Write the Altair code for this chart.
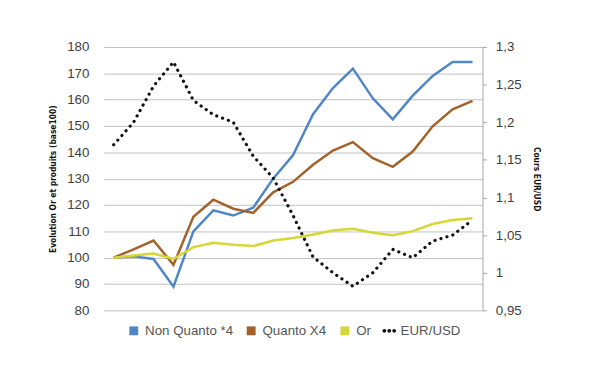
import altair as alt
import pandas as pd

series_names = ["Non Quanto *4", "Quanto X4", "Or", "EUR/USD"]
series_colors = ["#4f86c6", "#a3622a", "#d6d635", "#111111"]

non_quanto = [100, 100.5, 99.5, 89, 110, 118, 116, 119, 130, 139, 154.5, 164.4, 171.8, 160.5, 152.5, 161.5, 169, 174.3, 174.3]
quanto = [100, 103.2, 106.5, 97.3, 115.5, 122, 118.6, 117, 124.8, 128.8, 135.3, 140.7, 143.9, 137.8, 134.5, 140.3, 149.9, 156.3, 159.5]
gold = [100, 100.8, 101.6, 99.5, 104, 105.7, 104.9, 104.4, 106.5, 107.5, 108.8, 110.3, 111, 109.5, 108.5, 110.1, 112.8, 114.3, 115]
eurusd = [1.17, 1.2, 1.248, 1.28, 1.229, 1.21, 1.2, 1.155, 1.126, 1.076, 1.021, 1.0, 0.982, 1.0, 1.031, 1.02, 1.042, 1.05, 1.07]

left_ticks = [80, 90, 100, 110, 120, 130, 140, 150, 160, 170, 180]
right_ticks = [0.95, 1.0, 1.05, 1.1, 1.15, 1.2, 1.25, 1.3]

rows = []
for name, vals in zip(series_names[:3], [non_quanto, quanto, gold]):
    for i, v in enumerate(vals):
        rows.append({"idx": i, "series": name, "value": v})
left_df = pd.DataFrame(rows)
eur_df = pd.DataFrame({"idx": list(range(len(eurusd))), "series": "EUR/USD", "rate": eurusd})
legend_df = pd.DataFrame({"idx": [0] * 4, "series": series_names, "value": [100] * 4})

LABEL_FONT = "Liberation Sans"
TITLE_FONT = "Liberation Sans Narrow, DejaVu Sans Condensed, sans-serif"

xenc = alt.X("idx:Q", scale=alt.Scale(domain=[-0.5, 18.5], nice=False, zero=False), axis=None)

sq = "M-0.643,-0.643h1.286v1.286h-1.286z"
dots = ("M-0.99,0a0.28,0.28 0 1,0 0.56,0a0.28,0.28 0 1,0 -0.56,0"
        "M-0.28,0a0.28,0.28 0 1,0 0.56,0a0.28,0.28 0 1,0 -0.56,0"
        "M0.43,0a0.28,0.28 0 1,0 0.56,0a0.28,0.28 0 1,0 -0.56,0")

left_y_scale = alt.Scale(domain=[80, 180], nice=False, zero=False)
left_axis = alt.Axis(values=left_ticks, grid=True, gridColor="#c0c0c0", gridWidth=1,
                     domain=False, ticks=False, tickSize=0, labelPadding=15,
                     labelFont=LABEL_FONT, labelFontSize=13.5, labelColor="#404040",
                     title="Evolution Or et produits (base100)", titleFont=TITLE_FONT,
                     titleFontSize=8.5, titleFontWeight="bold", titleColor="#111111",
                     titlePadding=9)

lines = alt.Chart(left_df).mark_line(strokeWidth=2.5).encode(
    x=xenc,
    y=alt.Y("value:Q", scale=left_y_scale, axis=left_axis),
    stroke=alt.Stroke("series:N", legend=None,
                      scale=alt.Scale(domain=series_names[:3], range=series_colors[:3])),
    detail="series:N",
)

leg = alt.Legend(orient="none", legendX=23.5, legendY=280.5,
                 direction="horizontal", columns=4, title=None,
                 symbolSize=196, symbolStrokeWidth=0, symbolOpacity=1,
                 labelFont=LABEL_FONT, labelFontSize=13.5,
                 labelColor="#555555", labelOffset=4.5, columnPadding=11)

legend_pts = alt.Chart(legend_df).mark_point(filled=True, opacity=0).encode(
    x=xenc,
    y=alt.Y("value:Q", scale=left_y_scale, axis=left_axis),
    fill=alt.Fill("series:N", sort=series_names, legend=leg, title=None,
                  scale=alt.Scale(domain=series_names, range=series_colors)),
    shape=alt.Shape("series:N", sort=series_names, title=None,
                    scale=alt.Scale(domain=series_names, range=[sq, sq, sq, dots]),
                    legend=leg),
)

left = alt.layer(lines, legend_pts)

eur = alt.Chart(eur_df).mark_line(strokeWidth=3.2, strokeDash=[0.1, 6.2], strokeCap="round",
                                  color=series_colors[3]).encode(
    x=xenc,
    y=alt.Y("rate:Q", scale=alt.Scale(domain=[0.95, 1.3], nice=False, zero=False),
            axis=alt.Axis(orient="right", values=right_ticks, grid=False,
                          domain=True, domainColor="#a6a6a6", ticks=True, tickSize=4,
                          tickColor="#a6a6a6", labelPadding=9,
                          labelExpr="replace(format(datum.value, '.2~f'), '.', ',')",
                          labelFont=LABEL_FONT, labelFontSize=13.5, labelColor="#404040",
                          title="Cours EUR/USD", titleFont=TITLE_FONT, titleFontSize=8.5,
                          titleFontWeight="bold", titleColor="#111111", titlePadding=10)),
)

chart = alt.layer(left, eur).resolve_scale(y="independent").properties(
    width=384, height=267,
    padding={"left": 97, "top": 37, "right": 111, "bottom": 63},
    autosize=alt.AutoSizeParams(type="none"),
).configure_view(stroke=None)

chart.save("out.html", embed_options={"renderer": "svg", "actions": False})
